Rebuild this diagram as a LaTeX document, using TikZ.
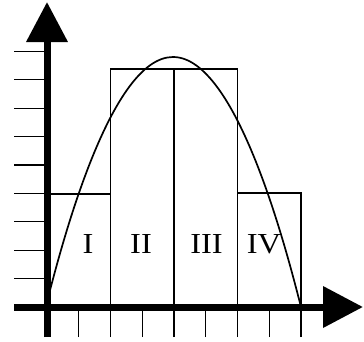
\documentclass[tikz,border=0pt]{standalone}
\usepackage{fontspec}
\setmainfont{Liberation Serif}
\usetikzlibrary{arrows.meta}

\begin{document}
\begin{tikzpicture}[
  x=1pt, y=1pt,
  axis/.style={line width=7pt, -{Triangle[length=40pt,width=40pt]}},
  axistick/.style={line width=1.3pt},
  bar/.style={draw, line width=1.3pt},
  curve/.style={line width=1.7pt},
  lbl/.style={font=\fontsize{29}{34}\selectfont, inner sep=0pt}
]
  \useasboundingbox (0,0) rectangle (364,341);
  \coordinate (O) at (47,34);
  \coordinate (ybot) at (47,4);
  \coordinate (ytop) at (47,339);
  \coordinate (xleft) at (14,34);
  \coordinate (xright) at (363,34);
  % bars
  \draw[bar] (47,34) rectangle (110.5,147);
  \draw[bar] (110.5,34) rectangle (174,272);
  \draw[bar] (174,34) rectangle (237.5,272);
  \draw[bar] (237.5,34) rectangle (301,148);
  \node[lbl] (bI) at (88,96.5) {\scalebox{1.12}[1]{I}};
  \node[lbl] (bII) at (141,96.5) {\scalebox{1.12}[1]{II}};
  \node[lbl] (bIII) at (206.5,96.5) {\scalebox{1.12}[1]{III}};
  \node[lbl] (bIV) at (264,96.5) {\scalebox{1.12}[1]{IV}};
  % curve
  \draw[curve] (48,43) parabola bend (173,284) (301,34);
  % ticks
  \foreach \k in {1,...,9}
    \draw[axistick] (14,34+28.4*\k) -- (47,34+28.4*\k);
  \foreach \k in {1,...,8}
    \draw[axistick] (47+31.75*\k,4) -- (47+31.75*\k,34);
  % axes
  \draw[axis] (ybot) -- (ytop);
  \draw[axis] (xleft) -- (xright);
\end{tikzpicture}
\end{document}
